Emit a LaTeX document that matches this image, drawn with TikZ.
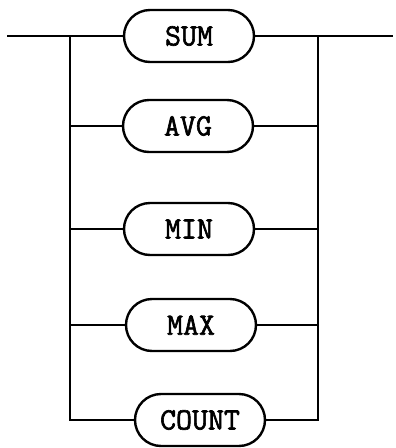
\documentclass[tikz,border=0pt]{standalone}
\usepackage{fontspec}
\newfontfamily\termfont{Latin Modern Mono}[FakeBold=2]
\usetikzlibrary{shapes.misc}
\begin{document}
\begin{tikzpicture}[x=1pt,y=-1pt,line width=2.4pt,
  term/.style={rounded rectangle, draw, minimum width=130pt, minimum height=52pt,
    inner sep=0pt, font=\termfont\fontsize{31}{31}\selectfont}]
\useasboundingbox (0,0) rectangle (396,448);
\node[term] (sum) at (189,36) {SUM};
\node[term] (avg) at (188,126) {AVG};
\node[term] (min) at (189,229) {MIN};
\node[term] (max) at (191,325) {MAX};
\node[term] (count) at (200,420) {COUNT};
\coordinate (start) at (7,36);
\coordinate (stop) at (393,36);
\coordinate (jl) at (70,36);
\coordinate (jr) at (318,36);
\draw (start) -- (sum.west);
\draw (sum.east) -- (stop);
\draw (jl) |- (count.west);
\draw (jr) |- (count.east);
\foreach \n in {avg,min,max} {
  \draw (jl |- \n.west) -- (\n.west);
  \draw (\n.east) -- (jr |- \n.east);
}
\end{tikzpicture}
\end{document}
